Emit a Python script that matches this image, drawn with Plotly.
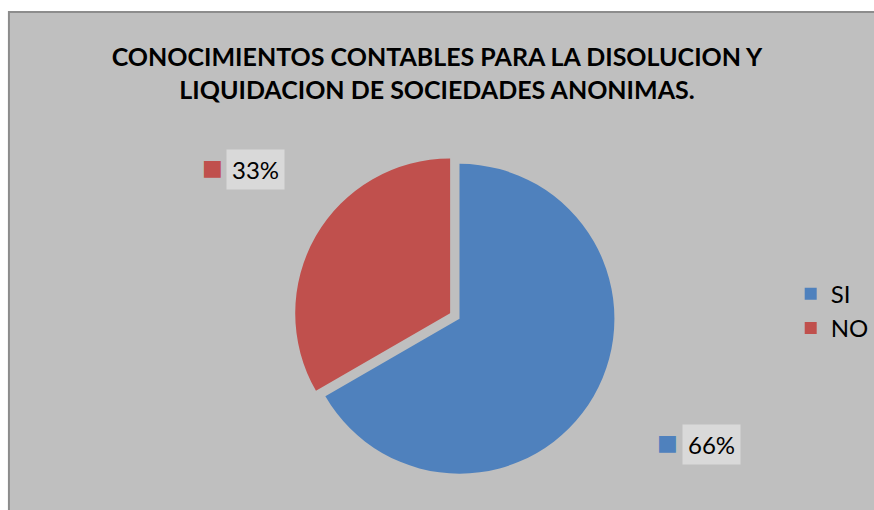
import plotly.graph_objects as go

categories = ["SI", "NO"]
values = [66, 33]
label_texts = ["66%", "33%"]
colors = ["#4f81bd", "#c0504d"]

title_text = "CONOCIMIENTOS CONTABLES PARA LA DISOLUCION Y<br>LIQUIDACION DE SOCIEDADES ANONIMAS."
FONT = "Lato"

fig = go.Figure()
fig.add_trace(go.Pie(
    labels=categories,
    values=values,
    sort=False,
    direction="clockwise",
    rotation=0,
    pull=[0, 0.07],
    marker=dict(colors=colors, line=dict(color="#3a5f8c", width=0)),
    textinfo="none",
    hoverinfo="label+value",
    domain=dict(x=[0.2, 0.86], y=[0.05, 0.70]),
    showlegend=True,
))

# chart area background with border
fig.add_shape(type="rect", xref="paper", yref="paper",
              x0=9/874, x1=1.01, y0=-0.01, y1=1 - 12/510,
              fillcolor="#bfbfbf", line=dict(color="#8c8c8c", width=2), layer="below")

# data labels with legend keys
label_pos = {"NO": (258/874, 1 - 170/510), "SI": (717/874, 1 - 444/510)}
for cat, txt, col in zip(categories, label_texts, colors):
    lx, ly = label_pos[cat]
    fig.add_annotation(x=lx, y=ly, xref="paper", yref="paper", text=txt,
                       showarrow=False, bgcolor="#d9d9d9", borderpad=5,
                       font=dict(family=FONT, size=24, color="#000000"),
                       xanchor="center", yanchor="middle")
    fig.add_annotation(x=lx - 44/874, y=ly + 2/510, xref="paper", yref="paper", text="■",
                       showarrow=False, font=dict(family="DejaVu Sans", size=22, color=col),
                       xanchor="center", yanchor="middle")

fig.update_layout(
    width=874, height=510,
    margin=dict(l=0, r=0, t=0, b=0),
    paper_bgcolor="#ffffff",
    plot_bgcolor="#bfbfbf",
    title=dict(text="<b>" + title_text + "</b>", x=0.5, xanchor="center",
               y=1 - 66/510, yanchor="middle",
               font=dict(family=FONT, size=25, color="#000000")),
    legend=dict(x=0.912, y=0.39, xanchor="left", yanchor="middle",
                font=dict(family=FONT, size=24, color="#000000"),
                bgcolor="rgba(0,0,0,0)", itemclick=False),
)

fig.write_html("out.html", config={"displayModeBar": False},
               post_script="document.body.style.margin='0';")
